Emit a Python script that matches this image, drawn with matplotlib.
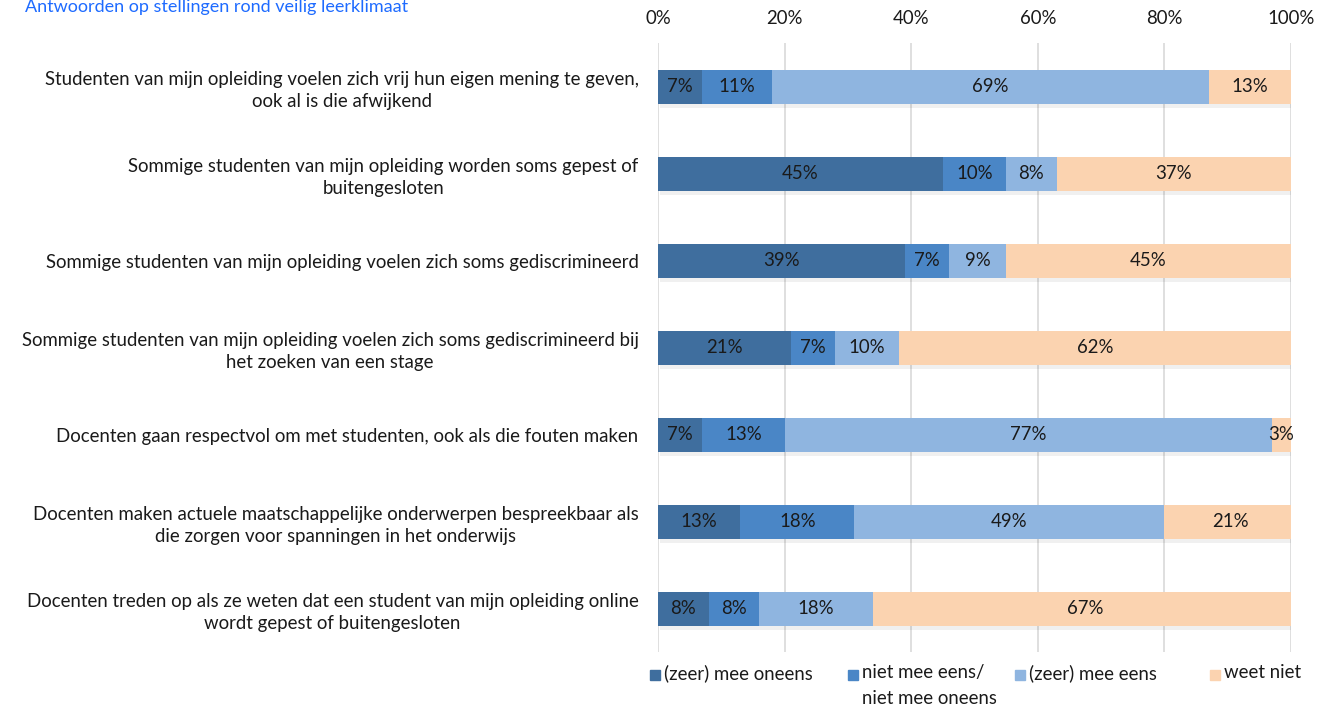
import matplotlib
matplotlib.use('Agg')
import matplotlib.pyplot as plt
from matplotlib.patches import Rectangle
import numpy as np

plt.rcParams['font.family'] = ['Lato', 'DejaVu Sans']

statements = [
    "Studenten van mijn opleiding voelen zich vrij hun eigen mening te geven,\nook al is die afwijkend",
    "Sommige studenten van mijn opleiding worden soms gepest of\nbuitengesloten",
    "Sommige studenten van mijn opleiding voelen zich soms gediscrimineerd",
    "Sommige studenten van mijn opleiding voelen zich soms gediscrimineerd bij\nhet zoeken van een stage",
    "Docenten gaan respectvol om met studenten, ook als die fouten maken",
    "Docenten maken actuele maatschappelijke onderwerpen bespreekbaar als\ndie zorgen voor spanningen in het onderwijs",
    "Docenten treden op als ze weten dat een student van mijn opleiding online\nwordt gepest of buitengesloten",
]
categories = ["(zeer) mee oneens", "niet mee eens/\nniet mee oneens",
              "(zeer) mee eens", "weet niet"]
oneens = [7, 45, 39, 21, 7, 13, 8]
neutraal = [11, 10, 7, 7, 13, 18, 8]
eens = [69, 8, 9, 10, 77, 49, 18]
weet_niet = [13, 37, 45, 62, 3, 21, 67]
colors = ['#3f6e9e', '#4a86c6', '#8fb5e0', '#fbd3b0']

series = [oneens, neutraal, eens, weet_niet]
TXT = '#1a1a1a'
FS = 13.4

fig = plt.figure(figsize=(13.33, 7.08), dpi=100)
ax = fig.add_axes([0.4936, 0.0784, 0.4749, 0.8602])

y = np.arange(len(statements))
left = np.zeros(len(statements))
for vals, col in zip(series, colors):
    vals = np.array(vals, dtype=float)
    # soft shadow under the bars
    ax.barh(y + 0.04, vals, left=left + 0.3, height=0.4, color='#000000',
            alpha=0.06, zorder=1, linewidth=0)
    ax.barh(y, vals, left=left, height=0.4, color=col, zorder=2, linewidth=0)
    for yi, l, v in zip(y, left, vals):
        ax.text(l + v / 2, yi, "%d%%" % v, ha='center', va='center',
                fontsize=FS, color=TXT, zorder=3)
    left += vals

ax.set_xlim(0, 100)
ax.set_ylim(len(statements) - 0.5, -0.5)
ax.set_xticks(np.arange(0, 101, 20))
ax.set_xticklabels(["%d%%" % t for t in range(0, 101, 20)])
ax.xaxis.tick_top()
ax.tick_params(axis='x', length=0, labelsize=FS, colors=TXT, pad=12)
ax.set_yticks(y)
ax.set_yticklabels(statements, fontsize=FS, color=TXT)
for lab in ax.get_yticklabels():
    lab.set_multialignment('center')
    lab.set_linespacing(1.35)
ax.tick_params(axis='y', length=0, pad=14)
ax.grid(axis='x', color='#d9d9d9', linewidth=1.2, zorder=0)
ax.set_axisbelow(True)
for s in ax.spines.values():
    s.set_visible(False)

# legend drawn by hand so the marker sits on the first line of a wrapped label
leg_x = [0.4876, 0.6362, 0.7615, 0.9078]
leg_top = 1 - 664 / 708.
marker_y = 1 - 680 / 708.
for lx, col, name in zip(leg_x, colors, categories):
    fig.patches.append(Rectangle((lx, marker_y), 0.0072, 0.0136,
                                 transform=fig.transFigure, color=col))
    fig.text(lx + 0.0105, leg_top, name, fontsize=FS, color=TXT,
             ha='left', va='top', linespacing=1.65)

fig.text(0.019, 1 - 12 / 708., "Antwoorden op stellingen rond veilig leerklimaat",
         color='#1e6bff', fontsize=13, va='baseline', ha='left')

fig.savefig('out.png', dpi=100)
